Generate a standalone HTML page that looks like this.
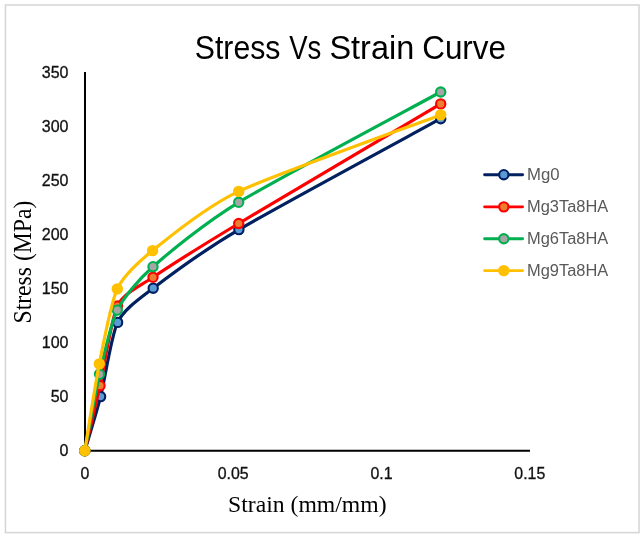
<!DOCTYPE html>
<html><head><meta charset="utf-8"><style>
html,body{margin:0;padding:0;background:#fff;}
body{width:644px;height:538px;overflow:hidden;font-family:"Liberation Sans",sans-serif;}
svg{display:block;will-change:transform;}
</style></head><body>
<svg width="644" height="538" viewBox="0 0 644 538">
<rect x="5.45" y="5.0" width="633.6" height="527.6" fill="#fff" stroke="#d5d5d5" stroke-width="1.5"/>
<text x="194.83" y="59.4" font-family="Liberation Sans" font-size="33.5" textLength="85.56" lengthAdjust="spacingAndGlyphs" fill="#000">Stress</text>
<text x="289.18" y="59.4" font-family="Liberation Sans" font-size="33.5" textLength="32.12" lengthAdjust="spacingAndGlyphs" fill="#000">Vs</text>
<text x="329.43" y="59.4" font-family="Liberation Sans" font-size="33.5" textLength="84.77" lengthAdjust="spacingAndGlyphs" fill="#000">Strain</text>
<text x="422.21" y="59.4" font-family="Liberation Sans" font-size="33.5" textLength="83.79" lengthAdjust="spacingAndGlyphs" fill="#000">Curve</text>
<line x1="85" y1="72" x2="85" y2="451.8" stroke="#000" stroke-width="2"/>
<line x1="84" y1="450.8" x2="530" y2="450.8" stroke="#000" stroke-width="2"/>
<text x="68.5" y="456.30" font-family="Liberation Sans" font-size="16.0" text-anchor="end" fill="#111" stroke="#111" stroke-width="0.3">0</text>
<text x="68.5" y="402.27" font-family="Liberation Sans" font-size="16.0" text-anchor="end" fill="#111" stroke="#111" stroke-width="0.3">50</text>
<text x="68.5" y="348.24" font-family="Liberation Sans" font-size="16.0" text-anchor="end" fill="#111" stroke="#111" stroke-width="0.3">100</text>
<text x="68.5" y="294.21" font-family="Liberation Sans" font-size="16.0" text-anchor="end" fill="#111" stroke="#111" stroke-width="0.3">150</text>
<text x="68.5" y="240.19" font-family="Liberation Sans" font-size="16.0" text-anchor="end" fill="#111" stroke="#111" stroke-width="0.3">200</text>
<text x="68.5" y="186.16" font-family="Liberation Sans" font-size="16.0" text-anchor="end" fill="#111" stroke="#111" stroke-width="0.3">250</text>
<text x="68.5" y="132.13" font-family="Liberation Sans" font-size="16.0" text-anchor="end" fill="#111" stroke="#111" stroke-width="0.3">300</text>
<text x="68.5" y="78.10" font-family="Liberation Sans" font-size="16.0" text-anchor="end" fill="#111" stroke="#111" stroke-width="0.3">350</text>
<text x="84.80" y="479.2" font-family="Liberation Sans" font-size="15.9" text-anchor="middle" fill="#111" stroke="#111" stroke-width="0.3">0</text>
<text x="233.13" y="479.2" font-family="Liberation Sans" font-size="15.9" text-anchor="middle" fill="#111" stroke="#111" stroke-width="0.3">0.05</text>
<text x="381.47" y="479.2" font-family="Liberation Sans" font-size="15.9" text-anchor="middle" fill="#111" stroke="#111" stroke-width="0.3">0.1</text>
<text x="529.80" y="479.2" font-family="Liberation Sans" font-size="15.9" text-anchor="middle" fill="#111" stroke="#111" stroke-width="0.3">0.15</text>
<text x="228.0" y="512.3" font-family="Liberation Serif" font-size="24" textLength="158.6" lengthAdjust="spacingAndGlyphs" fill="#000">Strain (mm/mm)</text>
<text transform="translate(30.5,323.5) rotate(-90)" x="0" y="0" font-family="Liberation Serif" font-size="24.2" textLength="122.9" lengthAdjust="spacingAndGlyphs" fill="#000">Stress (MPa)</text>
<path d="M84.80,450.70 C86.70,444.21 96.66,412.00 100.60,396.60 C104.54,381.20 111.29,335.41 117.60,322.40 C123.91,309.39 138.64,299.34 153.20,288.20 C167.76,277.06 204.40,249.94 238.90,229.60 C273.40,209.26 416.48,132.01 440.70,118.70" fill="none" stroke="#002060" stroke-width="3.20" stroke-linejoin="round" stroke-linecap="round"/>
<circle cx="84.80" cy="450.70" r="4.65" fill="#5b9bd5" stroke="#002060" stroke-width="2.10"/>
<circle cx="100.60" cy="396.60" r="4.65" fill="#5b9bd5" stroke="#002060" stroke-width="2.10"/>
<circle cx="117.60" cy="322.40" r="4.65" fill="#5b9bd5" stroke="#002060" stroke-width="2.10"/>
<circle cx="153.20" cy="288.20" r="4.65" fill="#5b9bd5" stroke="#002060" stroke-width="2.10"/>
<circle cx="238.90" cy="229.60" r="4.65" fill="#5b9bd5" stroke="#002060" stroke-width="2.10"/>
<circle cx="440.70" cy="118.70" r="4.65" fill="#5b9bd5" stroke="#002060" stroke-width="2.10"/>
<path d="M84.80,450.70 C86.62,442.90 96.08,403.06 100.00,385.70 C103.92,368.34 111.14,319.01 117.50,306.00 C123.86,292.99 138.46,287.20 153.00,277.30 C167.54,267.40 204.18,244.31 238.70,223.50 C273.22,202.69 416.46,118.25 440.70,103.90" fill="none" stroke="#ff0000" stroke-width="3.20" stroke-linejoin="round" stroke-linecap="round"/>
<circle cx="84.80" cy="450.70" r="4.65" fill="#ed7d31" stroke="#ff0000" stroke-width="2.10"/>
<circle cx="100.00" cy="385.70" r="4.65" fill="#ed7d31" stroke="#ff0000" stroke-width="2.10"/>
<circle cx="117.50" cy="306.00" r="4.65" fill="#ed7d31" stroke="#ff0000" stroke-width="2.10"/>
<circle cx="153.00" cy="277.30" r="4.65" fill="#ed7d31" stroke="#ff0000" stroke-width="2.10"/>
<circle cx="238.70" cy="223.50" r="4.65" fill="#ed7d31" stroke="#ff0000" stroke-width="2.10"/>
<circle cx="440.70" cy="103.90" r="4.65" fill="#ed7d31" stroke="#ff0000" stroke-width="2.10"/>
<path d="M84.80,450.70 C86.56,441.53 95.60,391.17 99.50,374.30 C103.40,357.43 110.88,323.01 117.30,310.10 C123.72,297.19 138.43,279.64 153.00,266.70 C167.57,253.76 204.18,223.26 238.70,202.30 C273.22,181.34 416.46,105.24 440.70,92.00" fill="none" stroke="#00b050" stroke-width="3.20" stroke-linejoin="round" stroke-linecap="round"/>
<circle cx="84.80" cy="450.70" r="4.65" fill="#a5a5a5" stroke="#00b050" stroke-width="2.10"/>
<circle cx="99.50" cy="374.30" r="4.65" fill="#a5a5a5" stroke="#00b050" stroke-width="2.10"/>
<circle cx="117.30" cy="310.10" r="4.65" fill="#a5a5a5" stroke="#00b050" stroke-width="2.10"/>
<circle cx="153.00" cy="266.70" r="4.65" fill="#a5a5a5" stroke="#00b050" stroke-width="2.10"/>
<circle cx="238.70" cy="202.30" r="4.65" fill="#a5a5a5" stroke="#00b050" stroke-width="2.10"/>
<circle cx="440.70" cy="92.00" r="4.65" fill="#a5a5a5" stroke="#00b050" stroke-width="2.10"/>
<path d="M84.80,450.70 C86.54,440.28 95.40,383.32 99.30,363.90 C103.20,344.48 110.90,302.50 117.30,288.90 C123.70,275.30 138.03,262.30 152.60,250.60 C167.17,238.90 204.13,207.68 238.70,191.40 C273.27,175.12 416.46,124.08 440.70,114.90" fill="none" stroke="#ffc000" stroke-width="3.20" stroke-linejoin="round" stroke-linecap="round"/>
<circle cx="84.80" cy="450.70" r="4.65" fill="#ffc000" stroke="#ffc000" stroke-width="2.10"/>
<circle cx="99.30" cy="363.90" r="4.65" fill="#ffc000" stroke="#ffc000" stroke-width="2.10"/>
<circle cx="117.30" cy="288.90" r="4.65" fill="#ffc000" stroke="#ffc000" stroke-width="2.10"/>
<circle cx="152.60" cy="250.60" r="4.65" fill="#ffc000" stroke="#ffc000" stroke-width="2.10"/>
<circle cx="238.70" cy="191.40" r="4.65" fill="#ffc000" stroke="#ffc000" stroke-width="2.10"/>
<circle cx="440.70" cy="114.90" r="4.65" fill="#ffc000" stroke="#ffc000" stroke-width="2.10"/>
<line x1="484.6" y1="174.70" x2="522.6" y2="174.70" stroke="#002060" stroke-width="2.90" stroke-linecap="round"/>
<circle cx="503.8" cy="174.70" r="4.65" fill="#5b9bd5" stroke="#002060" stroke-width="2.10"/>
<text x="527" y="179.75" font-family="Liberation Sans" font-size="15.6" textLength="32.6" lengthAdjust="spacingAndGlyphs" fill="#595959">Mg0</text>
<line x1="484.6" y1="206.85" x2="522.6" y2="206.85" stroke="#ff0000" stroke-width="2.90" stroke-linecap="round"/>
<circle cx="503.8" cy="206.85" r="4.65" fill="#ed7d31" stroke="#ff0000" stroke-width="2.10"/>
<text x="527" y="211.90" font-family="Liberation Sans" font-size="15.6" textLength="81.3" lengthAdjust="spacingAndGlyphs" fill="#595959">Mg3Ta8HA</text>
<line x1="484.6" y1="238.75" x2="522.6" y2="238.75" stroke="#00b050" stroke-width="2.90" stroke-linecap="round"/>
<circle cx="503.8" cy="238.75" r="4.65" fill="#a5a5a5" stroke="#00b050" stroke-width="2.10"/>
<text x="527" y="243.80" font-family="Liberation Sans" font-size="15.6" textLength="81.3" lengthAdjust="spacingAndGlyphs" fill="#595959">Mg6Ta8HA</text>
<line x1="484.6" y1="270.60" x2="522.6" y2="270.60" stroke="#ffc000" stroke-width="2.90" stroke-linecap="round"/>
<circle cx="503.8" cy="270.60" r="4.65" fill="#ffc000" stroke="#ffc000" stroke-width="2.10"/>
<text x="527" y="275.65" font-family="Liberation Sans" font-size="15.6" textLength="81.3" lengthAdjust="spacingAndGlyphs" fill="#595959">Mg9Ta8HA</text>
</svg>
</body></html>
